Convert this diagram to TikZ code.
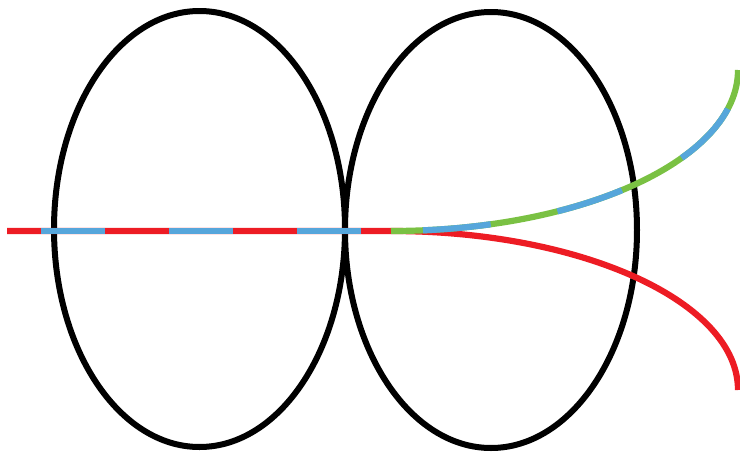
\documentclass[tikz,border=0pt]{standalone}
\definecolor{cred}{HTML}{ED1C24}
\definecolor{cblue}{HTML}{56A6DB}
\definecolor{cgreen}{HTML}{7AC143}
\tikzset{
  ring/.style={draw=black, line width=6},
  curveline/.style={line width=6.2},
}
\begin{document}
\begin{tikzpicture}[x=1pt,y=-1pt]
\useasboundingbox (0,0) rectangle (740,453);
% ellipses
\draw[ring] (199.5,229) ellipse[x radius=145.5, y radius=218];
\draw[ring] (491,230) ellipse[x radius=146, y radius=218];
% coordinates
\coordinate (start) at (7,231);
\coordinate (split) at (391,231);
% red path: horizontal then down
\draw[curveline, cred] (start) -- (split) arc[start angle=-90, end angle=0, x radius=347, y radius=159];
% green upper curve
\draw[curveline, cgreen] (split) arc[start angle=90, end angle=0, x radius=347, y radius=161];
% blue dashes along upper path
\draw[curveline, cblue, dash pattern=on 64 off 64, dash phase=94] (start) -- (split);
\draw[curveline, cblue, dash pattern=on 68 off 68, dash phase=104] (split) arc[start angle=90, end angle=0, x radius=347, y radius=161];
\end{tikzpicture}
\end{document}
